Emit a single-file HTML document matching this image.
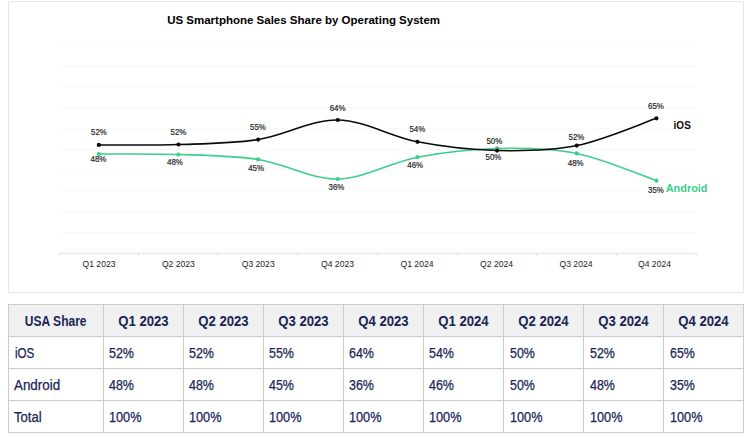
<!DOCTYPE html>
<html lang="en">
<head>
<meta charset="utf-8">
<title>US Smartphone Sales Share by Operating System</title>
<style>
html,body{margin:0;padding:0;background:#fff;}
body{width:750px;height:438px;position:relative;overflow:hidden;font-family:"Liberation Sans",sans-serif;}
.frame{position:absolute;left:8px;top:1px;width:734px;height:290px;border:1px solid #e7e7e7;background:#fff;}
svg.chart{position:absolute;left:0;top:0;display:block;}
svg.chart text{font-family:"Liberation Sans",sans-serif;}
.title{font-size:11.5px;font-weight:bold;fill:#000;}
.dl text{font-size:8.4px;fill:#262626;stroke:#262626;stroke-width:.2px;}
.cat text{font-size:8.6px;fill:#1c1c1c;}
.ser{font-size:10.8px;font-weight:bold;}
table.share{position:absolute;left:8px;top:304px;border-collapse:collapse;table-layout:fixed;width:736px;border-spacing:0;}
table.share th,table.share td{border:1px solid #cbcbcb;height:32px;padding:0;color:#1b2456;box-sizing:border-box;overflow:hidden;white-space:nowrap;line-height:1;vertical-align:middle;}
table.share th{background:#f0f0f0;font-weight:bold;font-size:14.3px;text-align:center;width:80px;}
table.share th.first{width:95px;}
table.share td{text-align:left;padding-left:5px;font-weight:normal;font-size:13.8px;-webkit-text-stroke:.25px #1b2456;}
table.share td.first{padding-left:5.2px;}
table.share span{display:inline-block;position:relative;top:0.5px;}
table.share th span{transform-origin:50% 50%;}
table.share td span{transform-origin:0 50%;top:1.3px;}
table.share td:nth-child(3) span{left:0.1px;}
table.share td:nth-child(4) span{left:0.2px;}
table.share td:nth-child(5) span{left:0.3px;}
table.share td:nth-child(6) span{left:0.4px;}
table.share td:nth-child(7) span{left:0.5px;}
table.share td:nth-child(8) span{left:0.6px;}
table.share td:nth-child(9) span{left:0.7px;}
.h0{transform:scaleX(.84);}
.hq{transform:scaleX(.92);}
.n1{transform:scaleX(.84);left:.4px;}
.n2{transform:scaleX(.97);}
.n3{transform:scaleX(.95);}
.v2{transform:scaleX(.90);}
.v3{transform:scaleX(.92);}
</style>
</head>
<body>
<div class="frame"></div>
<svg class="chart" width="750" height="296" viewBox="0 0 750 296">
<g stroke="#f8f8f8" stroke-width="1">
<line x1="59.0" y1="232.54" x2="696.2" y2="232.54"/>
<line x1="59.0" y1="211.78" x2="696.2" y2="211.78"/>
<line x1="59.0" y1="191.02" x2="696.2" y2="191.02"/>
<line x1="59.0" y1="170.26" x2="696.2" y2="170.26"/>
<line x1="59.0" y1="149.50" x2="696.2" y2="149.50"/>
<line x1="59.0" y1="128.74" x2="696.2" y2="128.74"/>
<line x1="59.0" y1="107.98" x2="696.2" y2="107.98"/>
<line x1="59.0" y1="87.22" x2="696.2" y2="87.22"/>
<line x1="59.0" y1="66.46" x2="696.2" y2="66.46"/>
<line x1="59.0" y1="45.70" x2="696.2" y2="45.70"/>
</g>
<g stroke="#e0e0e0" stroke-width="1">
<line x1="59.0" y1="253.30" x2="696.2" y2="253.30"/>
<line x1="59.00" y1="253.30" x2="59.00" y2="255.80"/>
<line x1="138.65" y1="253.30" x2="138.65" y2="255.80"/>
<line x1="218.30" y1="253.30" x2="218.30" y2="255.80"/>
<line x1="297.95" y1="253.30" x2="297.95" y2="255.80"/>
<line x1="377.60" y1="253.30" x2="377.60" y2="255.80"/>
<line x1="457.25" y1="253.30" x2="457.25" y2="255.80"/>
<line x1="536.90" y1="253.30" x2="536.90" y2="255.80"/>
<line x1="616.55" y1="253.30" x2="616.55" y2="255.80"/>
<line x1="696.20" y1="253.30" x2="696.20" y2="255.80"/>
</g>
<path d="M98.83 154.07 C112.10 154.14 151.93 153.58 178.48 154.48 C205.03 155.38 231.57 155.38 258.12 159.46 C284.68 163.55 311.23 179.36 337.78 178.98 C364.33 178.60 390.88 162.27 417.43 157.18 C443.98 152.09 470.53 149.08 497.08 148.46 C523.62 147.84 550.18 148.08 576.73 153.44 C603.27 158.81 643.10 176.11 656.38 180.64" fill="none" stroke="#3ad089" stroke-width="1.6" stroke-linecap="round"/>
<path d="M98.83 144.93 C112.10 144.86 151.93 145.42 178.48 144.52 C205.03 143.62 231.57 143.62 258.12 139.54 C284.68 135.45 311.23 119.64 337.78 120.02 C364.33 120.40 390.88 136.73 417.43 141.82 C443.98 146.90 470.53 149.92 497.08 150.54 C523.62 151.16 550.18 150.92 576.73 145.56 C603.27 140.19 643.10 122.89 656.38 118.36" fill="none" stroke="#0a0a0a" stroke-width="1.6" stroke-linecap="round"/>
<g fill="#3ad089"><circle cx="98.83" cy="154.07" r="2.1"/><circle cx="178.48" cy="154.48" r="2.1"/><circle cx="258.12" cy="159.46" r="2.1"/><circle cx="337.78" cy="178.98" r="2.1"/><circle cx="417.43" cy="157.18" r="2.1"/><circle cx="497.08" cy="148.46" r="2.1"/><circle cx="576.73" cy="153.44" r="2.1"/><circle cx="656.38" cy="180.64" r="2.1"/></g>
<g fill="#0a0a0a"><circle cx="98.83" cy="144.93" r="2.1"/><circle cx="178.48" cy="144.52" r="2.1"/><circle cx="258.12" cy="139.54" r="2.1"/><circle cx="337.78" cy="120.02" r="2.1"/><circle cx="417.43" cy="141.82" r="2.1"/><circle cx="497.08" cy="150.54" r="2.1"/><circle cx="576.73" cy="145.56" r="2.1"/><circle cx="656.38" cy="118.36" r="2.1"/></g>
<g class="dl" text-anchor="middle">
<text x="99.0" y="135.1" textLength="15.8" lengthAdjust="spacingAndGlyphs">52%</text>
<text x="178.5" y="135.1" textLength="15.8" lengthAdjust="spacingAndGlyphs">52%</text>
<text x="258.0" y="130.2" textLength="15.8" lengthAdjust="spacingAndGlyphs">55%</text>
<text x="337.6" y="110.6" textLength="15.8" lengthAdjust="spacingAndGlyphs">64%</text>
<text x="417.3" y="132.3" textLength="15.8" lengthAdjust="spacingAndGlyphs">54%</text>
<text x="494.3" y="144.3" textLength="15.8" lengthAdjust="spacingAndGlyphs">50%</text>
<text x="576.5" y="140.2" textLength="15.8" lengthAdjust="spacingAndGlyphs">52%</text>
<text x="656.0" y="109.0" textLength="15.8" lengthAdjust="spacingAndGlyphs">65%</text>
<text x="98.5" y="162.2" textLength="15.8" lengthAdjust="spacingAndGlyphs">48%</text>
<text x="174.9" y="164.8" textLength="15.8" lengthAdjust="spacingAndGlyphs">48%</text>
<text x="256.1" y="171.0" textLength="15.8" lengthAdjust="spacingAndGlyphs">45%</text>
<text x="336.4" y="189.7" textLength="15.8" lengthAdjust="spacingAndGlyphs">36%</text>
<text x="415.2" y="167.5" textLength="15.8" lengthAdjust="spacingAndGlyphs">46%</text>
<text x="493.5" y="160.2" textLength="15.8" lengthAdjust="spacingAndGlyphs">50%</text>
<text x="575.7" y="165.9" textLength="15.8" lengthAdjust="spacingAndGlyphs">48%</text>
<text x="656.0" y="193.4" textLength="15.8" lengthAdjust="spacingAndGlyphs">35%</text>
</g>
<g class="cat" text-anchor="middle">
<text x="99.0" y="266.5">Q1 2023</text>
<text x="178.4" y="266.5">Q2 2023</text>
<text x="258.2" y="266.5">Q3 2023</text>
<text x="337.5" y="266.5">Q4 2023</text>
<text x="417.0" y="266.5">Q1 2024</text>
<text x="496.6" y="266.5">Q2 2024</text>
<text x="576.0" y="266.5">Q3 2024</text>
<text x="654.5" y="266.5">Q4 2024</text>
</g>
<text class="title" x="303.6" y="24" text-anchor="middle">US Smartphone Sales Share by Operating System</text>
<text class="ser" x="673.6" y="129.0" fill="#0a0a0a" textLength="17.2" lengthAdjust="spacingAndGlyphs">iOS</text>
<text class="ser" x="665.7" y="192.0" fill="#3ad089" textLength="41.8" lengthAdjust="spacingAndGlyphs">Android</text>
</svg>
<table class="share">
<thead><tr><th class="first"><span class="h0">USA Share</span></th><th><span class="hq">Q1 2023</span></th><th><span class="hq">Q2 2023</span></th><th><span class="hq">Q3 2023</span></th><th><span class="hq">Q4 2023</span></th><th><span class="hq">Q1 2024</span></th><th><span class="hq">Q2 2024</span></th><th><span class="hq">Q3 2024</span></th><th><span class="hq">Q4 2024</span></th></tr></thead>
<tbody>
<tr class="r"><td class="first"><span class="n1">iOS</span></td><td><span class="v2">52%</span></td><td><span class="v2">52%</span></td><td><span class="v2">55%</span></td><td><span class="v2">64%</span></td><td><span class="v2">54%</span></td><td><span class="v2">50%</span></td><td><span class="v2">52%</span></td><td><span class="v2">65%</span></td></tr>
<tr class="r"><td class="first"><span class="n2">Android</span></td><td><span class="v2">48%</span></td><td><span class="v2">48%</span></td><td><span class="v2">45%</span></td><td><span class="v2">36%</span></td><td><span class="v2">46%</span></td><td><span class="v2">50%</span></td><td><span class="v2">48%</span></td><td><span class="v2">35%</span></td></tr>
<tr class="last"><td class="first"><span class="n3">Total</span></td><td><span class="v3">100%</span></td><td><span class="v3">100%</span></td><td><span class="v3">100%</span></td><td><span class="v3">100%</span></td><td><span class="v3">100%</span></td><td><span class="v3">100%</span></td><td><span class="v3">100%</span></td><td><span class="v3">100%</span></td></tr>
</tbody></table>
</body>
</html>
